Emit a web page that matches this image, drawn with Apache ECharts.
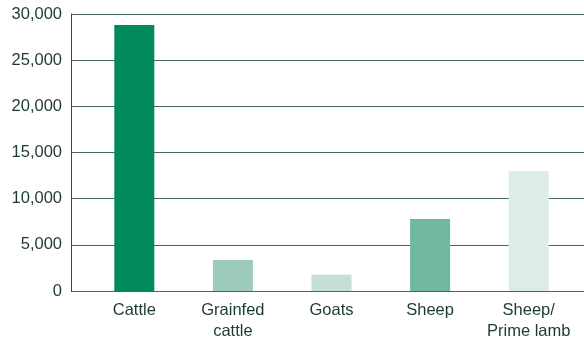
<!DOCTYPE html>
<html>
<head>
<meta charset="utf-8">
<script src="https://cdn.jsdelivr.net/npm/echarts@6/dist/echarts.min.js"></script>
<style>
html,body{margin:0;padding:0;background:#fff;}
#chart{width:584px;height:338px;}
</style>
</head>
<body>
<div id="chart"></div>
<script>
var categories = ['Cattle', 'Grainfed\ncattle', 'Goats', 'Sheep', 'Sheep/\nPrime lamb'];
var values = [28800, 3350, 1750, 7800, 13000];
var barColors = ['#008a5c', '#9ccbb9', '#c4dfd4', '#70b8a1', '#dcece6'];
var yTicks = { min: 0, max: 30000, interval: 5000 };

var chart = echarts.init(document.getElementById('chart'));
var font = '"Liberation Sans", Arial, Helvetica, sans-serif';
var textColor = '#1c3a30';

chart.setOption({
  animation: false,
  grid: [
    { left: 71, right: 0, top: 14, bottom: 47, outerBoundsMode: 'none', containLabel: false },
    { left: 85, right: 6, top: 14, bottom: 47, outerBoundsMode: 'none', containLabel: false }
  ],
  xAxis: [
    { gridIndex: 0, type: 'value', show: false, min: 0, max: 1 },
    {
      gridIndex: 1, type: 'category', data: categories,
      axisLine: { show: false }, axisTick: { show: false },
      axisLabel: { interval: 0, color: textColor, fontFamily: font, fontSize: 16.5, margin: 9, lineHeight: 21 }
    }
  ],
  yAxis: [
    {
      gridIndex: 0, type: 'value', min: yTicks.min, max: yTicks.max, interval: yTicks.interval,
      axisLine: { show: true, lineStyle: { color: '#2c4a40', width: 1 } },
      axisTick: { show: false },
      axisLabel: {
        color: textColor, fontFamily: font, fontSize: 16.5, margin: 9, padding: [5, 0, 0, 0],
        formatter: function (v) { return v.toLocaleString('en-US'); }
      },
      splitLine: { show: true, lineStyle: { color: '#4a665c', width: 1.2 } }
    },
    {
      gridIndex: 1, type: 'value', min: yTicks.min, max: yTicks.max, interval: yTicks.interval,
      show: false
    }
  ],
  series: [{
    type: 'bar',
    xAxisIndex: 1, yAxisIndex: 1,
    barWidth: 40,
    data: values.map(function (v, i) {
      return { value: v, itemStyle: { color: barColors[i] } };
    })
  }]
});
</script>
</body>
</html>
